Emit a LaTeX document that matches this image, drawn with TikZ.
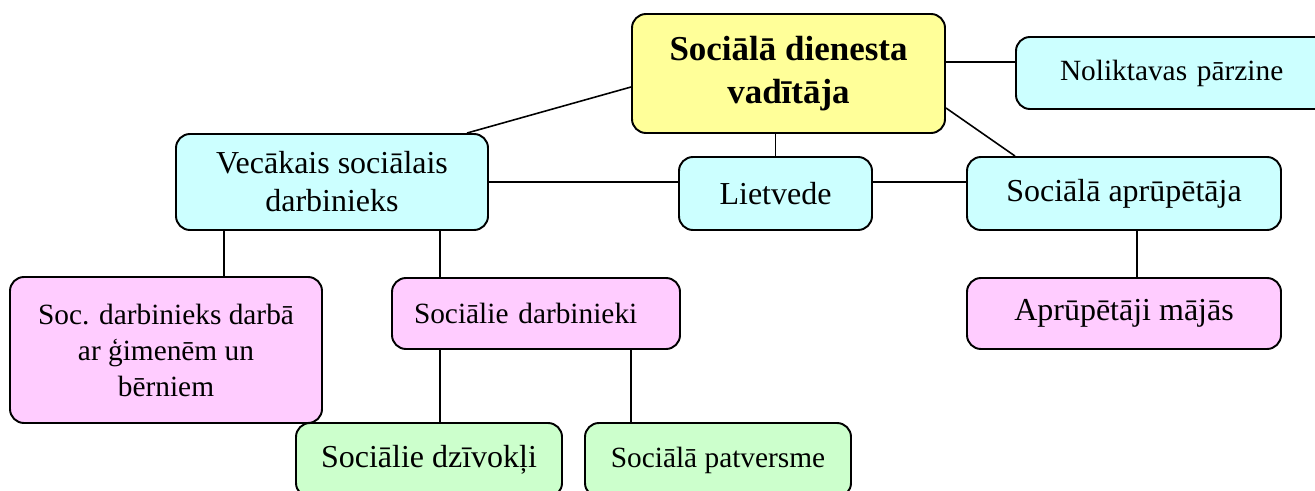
\documentclass[tikz,border=0pt]{standalone}
\usepackage{fontspec}
\setmainfont{Liberation Serif}
\definecolor{bossyellow}{HTML}{FFFF99}
\definecolor{boxcyan}{HTML}{CCFFFF}
\definecolor{boxpink}{HTML}{FFCCFF}
\definecolor{boxgreen}{HTML}{CCFFCC}
\tikzset{
  orgbox/.style={draw, line width=1.1pt, rounded corners=0.28cm, align=center, inner sep=0pt},
  bigtxt/.style={font=\fontsize{18.2}{21.6}\selectfont},
  smalltxt/.style={font=\fontsize{16.7}{20.5}\selectfont},
  link/.style={line width=0.9pt}
}
\begin{document}
\begin{tikzpicture}
  \useasboundingbox (0,0) rectangle (26.3,-9.82);
  % top level
  \node[orgbox, fill=bossyellow, minimum width=6.26cm, minimum height=2.38cm,
        font=\fontsize{19.9}{24.5}\selectfont\bfseries] (boss) at (15.77,-1.47) {Sociālā dienesta\\vadītāja};
  \node[orgbox, smalltxt, fill=boxcyan, minimum width=6.56cm, minimum height=1.44cm,
        text width=5.9cm, align=left, inner xsep=0.33cm] (nolik) at (23.60,-1.46) {\hspace*{0.55cm}Noliktavas pārzine};
  % second level
  \node[orgbox, bigtxt, fill=boxcyan, minimum width=6.24cm, minimum height=1.92cm] (vec) at (6.64,-3.64) {Vecākais sociālais\\darbinieks};
  \node[orgbox, bigtxt, fill=boxcyan, minimum width=3.86cm, minimum height=1.46cm] (liet) at (15.51,-3.87) {Lietvede};
  \node[orgbox, bigtxt, fill=boxcyan, minimum width=6.28cm, minimum height=1.46cm] (apr) at (22.48,-3.87) {Sociālā aprūpētāja};
  % third level
  \node[orgbox, smalltxt, fill=boxpink, minimum width=6.24cm, minimum height=2.92cm] (socg) at (3.32,-7.00) {Soc. darbinieks darbā\\ar ģimenēm un\\bērniem};
  \node[orgbox, smalltxt, fill=boxpink, minimum width=5.76cm, minimum height=1.42cm,
        text width=4.88cm, align=left, inner xsep=0.44cm] (sd) at (10.72,-6.27) {Sociālie darbinieki};
  \node[orgbox, bigtxt, fill=boxpink, minimum width=6.28cm, minimum height=1.42cm] (aprm) at (22.48,-6.27) {Aprūpētāji mājās};
  % fourth level
  \node[orgbox, bigtxt, fill=boxgreen, minimum width=5.32cm, minimum height=1.48cm] (dziv) at (8.58,-9.20) {Sociālie dzīvokļi};
  \node[orgbox, smalltxt, fill=boxgreen, minimum width=5.32cm, minimum height=1.48cm] (patv) at (14.36,-9.20) {Sociālā patversme};
  % links
  \draw[link] ([yshift=-0.27cm]boss.west) -- ([xshift=2.70cm]vec.north);
  \draw[link] ([yshift=0.23cm]boss.east) coordinate (bn) -- (bn -| nolik.west);
  \draw[link] (liet.north) -- (liet.north |- boss.south);
  \draw[link] ([yshift=-0.69cm]boss.east) -- ([xshift=-2.18cm]apr.north);
  \draw[link] (vec.east) -- (vec.east -| liet.west);
  \draw[link] (liet.east |- vec.east) -- (vec.east -| apr.west);
  \draw[link] ([xshift=-2.16cm]vec.south) coordinate (v1) -- (v1 |- socg.north);
  \draw[link] ([xshift=2.16cm]vec.south) coordinate (v2) -- (v2 |- sd.north);
  \draw[link] ([xshift=-1.92cm]sd.south) coordinate (s1) -- (s1 |- dziv.north);
  \draw[link] ([xshift=1.90cm]sd.south) coordinate (s2) -- (s2 |- patv.north);
  \draw[link] ([xshift=0.26cm]apr.south) coordinate (a1) -- (a1 |- aprm.north);
\end{tikzpicture}
\end{document}
